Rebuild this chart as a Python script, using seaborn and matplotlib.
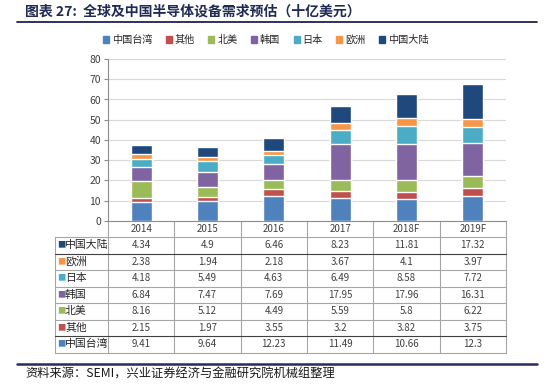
import numpy as np
import pandas as pd
import seaborn as sns
import matplotlib.pyplot as plt
from matplotlib.patches import Patch

sns.set_style('white')
plt.rcParams['font.family'] = ['Noto Sans CJK SC', 'DejaVu Sans']

years = ['2014', '2015', '2016', '2017', '2018F', '2019F']
# 从下到上堆叠的顺序
regions = ['中国台湾', '其他', '北美', '韩国', '日本', '欧洲', '中国大陆']
colors = ['#4F81BD', '#C0504D', '#9BBB59', '#8064A2', '#4BACC6', '#F79646', '#1F497D']

taiwan = [9.41, 9.64, 12.23, 11.49, 10.66, 12.3]
other = [2.15, 1.97, 3.55, 3.2, 3.82, 3.75]
north_america = [8.16, 5.12, 4.49, 5.59, 5.8, 6.22]
korea = [6.84, 7.47, 7.69, 17.95, 17.96, 16.31]
japan = [4.18, 5.49, 4.63, 6.49, 8.58, 7.72]
europe = [2.38, 1.94, 2.18, 3.67, 4.1, 3.97]
mainland = [4.34, 4.9, 6.46, 8.23, 11.81, 17.32]

values = [taiwan, other, north_america, korea, japan, europe, mainland]
df = pd.DataFrame(dict(zip(regions, values)), index=years)

W, H = 550, 389
fig = plt.figure(figsize=(W / 100, H / 100), dpi=100)

# 整体叠加层 (像素坐标)
over = fig.add_axes([0, 0, 1, 1])
over.set_xlim(0, W)
over.set_ylim(H, 0)
over.axis('off')

# 柱状图区域
x0, x1, ytop, ybot = 108, 506, 59, 221
ax = fig.add_axes([x0 / W, 1 - ybot / H, (x1 - x0) / W, (ybot - ytop) / H])

cum = df.cumsum(axis=1)
for reg, col in zip(regions[::-1], colors[::-1]):
    sns.barplot(x=years, y=cum[reg].values, color=col, width=0.32,
                saturation=1, ax=ax, zorder=3)

ax.set_xlim(-0.5, 5.5)
ax.set_ylim(0, 80)
ax.set_yticks(range(0, 81, 10))
ax.set_xticks([])
ax.grid(axis='y', color='#d9d9d9', lw=0.8, zorder=0)
for s in ['top', 'right']:
    ax.spines[s].set_visible(False)
ax.spines['left'].set_color('#8c8c8c')
ax.spines['bottom'].set_color('#8c8c8c')
ax.tick_params(axis='y', left=True, length=3, color='#8c8c8c',
               labelsize=7.5, labelcolor='#404040', pad=2)
ax.set_ylabel('')

# 图例
handles = [Patch(color=c, label=r) for r, c in zip(regions, colors)]
fig.legend(handles=handles, loc='center', bbox_to_anchor=(0.483, 1 - 40 / H),
           ncol=7, frameon=False, fontsize=7.3, handlelength=0.6, handleheight=0.6,
           handletextpad=0.3, columnspacing=1.3)

# 标题
over.text(25, 12, '图表 27:  全球及中国半导体设备需求预估（十亿美元）', fontsize=10,
          fontweight='bold', color='#1f2a55', va='center', ha='left')
over.plot([17, 537], [21.7, 21.7], color='#1f2350', lw=1.3)

# 数据表
colw = (x1 - x0) / 6
rowh = 16.5
t_left = 55
row_top = 237
row_names = regions[::-1]
row_colors = colors[::-1]
n_rows = len(row_names)
t_bot = row_top + rowh * n_rows

for k in range(7):
    xx = x0 + colw * k
    over.plot([xx, xx], [ybot, t_bot], color='#a6a6a6', lw=0.8)
over.plot([t_left, t_left], [row_top, t_bot], color='#a6a6a6', lw=0.8)
for i in range(n_rows + 1):
    yy = row_top + rowh * i
    c = '#404040' if i in (1, n_rows - 1) else '#a6a6a6'
    over.plot([t_left, x1], [yy, yy], color=c, lw=0.8)

for k, yr in enumerate(years):
    over.text(x0 + colw * (k + 0.5), (ybot + row_top) / 2, yr, fontsize=7,
              ha='center', va='center', color='#404040')

for i, (reg, col) in enumerate(zip(row_names, row_colors)):
    yc = row_top + rowh * (i + 0.5)
    over.text(57, yc, '■', fontsize=6, color=col, ha='left', va='center')
    over.text(65, yc, reg, fontsize=7.8, color='#262626', ha='left', va='center')
    for k, yr in enumerate(years):
        v = df.loc[yr, reg]
        over.text(x0 + colw * (k + 0.5), yc, f'{v:g}', fontsize=7,
                  ha='center', va='center', color='#404040')

# 资料来源
over.plot([17, 537], [364, 364], color='#2a2a5c', lw=1.8)
over.text(25, 374, '资料来源：SEMI，兴业证券经济与金融研究院机械组整理', fontsize=8.8,
          color='#1a1a1a', ha='left', va='center')

fig.savefig('out.png', dpi=100)
